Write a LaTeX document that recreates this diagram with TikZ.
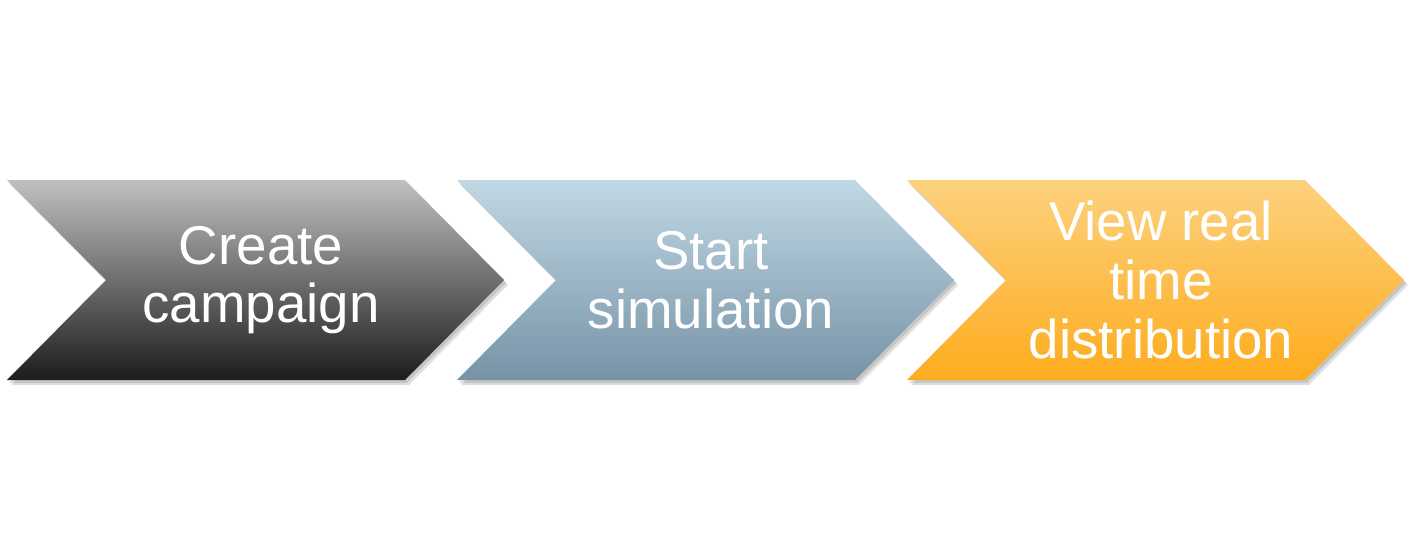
\documentclass[tikz,border=0pt]{standalone}
\usepackage{fontspec}
\setmainfont{Liberation Sans}
\usepackage{xcolor}
\usepackage{tikz}
\definecolor{gytop}{HTML}{C0C0C0}
\definecolor{gymid}{HTML}{8C8C8C}
\definecolor{gybot}{HTML}{1C1C1C}
\definecolor{bltop}{HTML}{C1D8E5}
\definecolor{blmid}{HTML}{A3BFCE}
\definecolor{blbot}{HTML}{7693A6}
\definecolor{ogtop}{HTML}{FDD17E}
\definecolor{ogmid}{HTML}{FDC157}
\definecolor{ogbot}{HTML}{FDAC1E}
\tikzset{
  shd/.style={fill=black,opacity=0.12},
  gy/.style={top color=gytop,middle color=gymid,bottom color=gybot},
  bl/.style={top color=bltop,middle color=blmid,bottom color=blbot},
  og/.style={top color=ogtop,middle color=ogmid,bottom color=ogbot},
  lbl/.style={text=white,align=center,inner sep=0pt,font=\fontsize{41}{44}\selectfont}
}
\newcommand{\chevpath}[1]{(#1,180) -- (#1+398,180) -- (#1+497,280) -- (#1+398,380) -- (#1,380) -- (#1+99,280) -- cycle}
\newcommand{\chev}[4]{%
  \fill[shd,shift={(2,3)}] \chevpath{#1};
  \fill[shd,shift={(4,5)}] \chevpath{#1};
  \shade[#3] \chevpath{#1};
  \node[lbl] (#2) at (#1+254,280) {#4};}

\begin{document}
\begin{tikzpicture}[x=0.75pt,y=-0.75pt]
\useasboundingbox (0,0) rectangle (1411,560);
\chev{7}{create}{gy}{Create\\campaign}
\chev{457}{start}{bl}{Start\\simulation}
\chev{907}{view}{og}{View real\\time\\distribution}
\end{tikzpicture}
\end{document}
